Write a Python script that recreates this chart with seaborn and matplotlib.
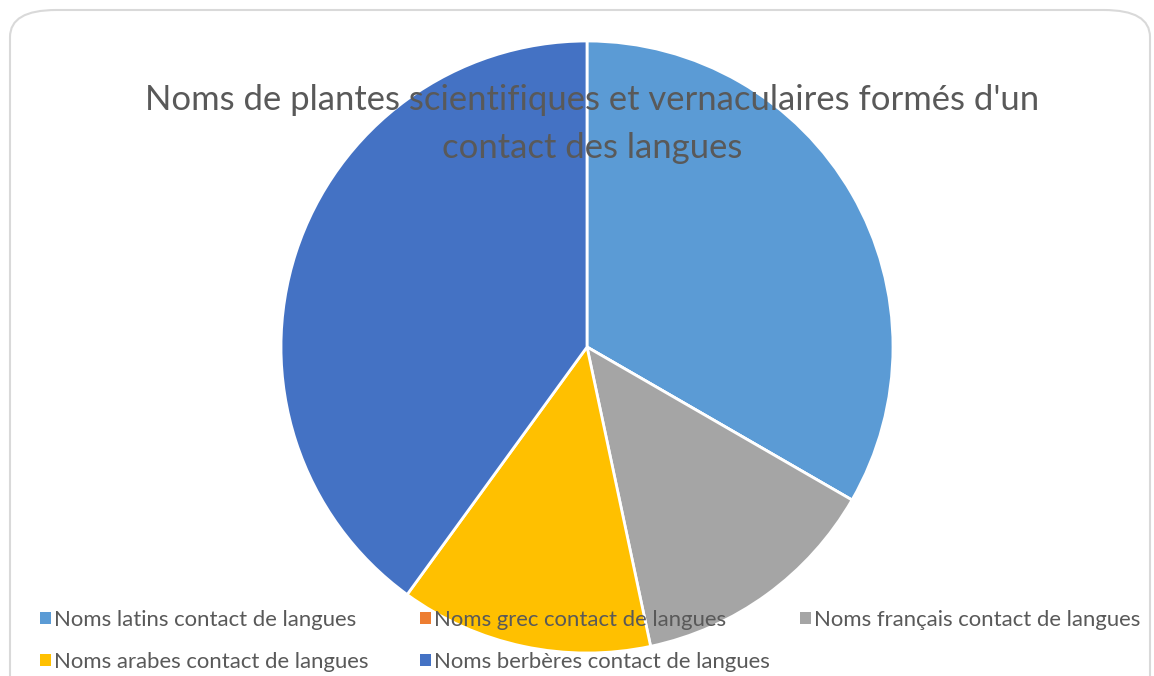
import matplotlib
matplotlib.use("Agg")
import matplotlib.pyplot as plt
from matplotlib.patches import FancyBboxPatch, Patch
import seaborn as sns

sns.set_theme(style="white")
plt.rcParams['font.family'] = ['Lato', 'DejaVu Sans']

labels = ["Noms latins contact de langues", "Noms grec contact de langues",
          "Noms français contact de langues", "Noms arabes contact de langues",
          "Noms berbères contact de langues"]
values = [5, 0, 2, 2, 6]
colors = sns.color_palette(["#5B9BD5", "#ED7D31", "#A5A5A5", "#FFC000", "#4472C4"])
title = "Noms de plantes scientifiques et vernaculaires formés d'un\ncontact des langues"

W, H = 1154, 676
fig = plt.figure(figsize=(W / 100, H / 100), dpi=100)

# chart border (rounded, cut off at the bottom)
border = FancyBboxPatch((10 / W, -0.05), (1150 - 10) / W, (H - 10) / H + 0.05,
                        boxstyle="round,pad=0,rounding_size=0.04",
                        transform=fig.transFigure, facecolor="none",
                        edgecolor="#D9D9D9", linewidth=1.5, zorder=0)
fig.patches.append(border)

cx, cy, r = 587, 347, 306
ax = fig.add_axes([(cx - r) / W, (H - cy - r) / H, 2 * r / W, 2 * r / H])
ax.pie(values, colors=colors, startangle=90, counterclock=False, radius=1,
       wedgeprops=dict(edgecolor="white", linewidth=2))
ax.set_xlim(-1, 1)
ax.set_ylim(-1, 1)
ax.set_aspect("equal")
ax.axis("off")

fig.text(592 / W, 1 - 124 / H, title, ha="center", va="center", fontsize=24.9,
         color="#595959", linespacing=1.62, zorder=5)

# legend entries laid out like the Excel legend (3 per row)
spots = [(40, 620), (420, 620), (800, 620), (40, 662), (420, 662)]
for lab, col, (x, y) in zip(labels, colors, spots):
    leg = fig.legend([Patch(facecolor=col, edgecolor="none")], [lab],
                     loc="center left", bbox_to_anchor=(x / W, 1 - y / H),
                     frameon=False, fontsize=15.9, labelcolor="#595959",
                     handlelength=0.5, handleheight=0.5, handletextpad=0.12,
                     borderpad=0, borderaxespad=0)
    leg.set_zorder(6)

fig.savefig("out.png", dpi=100)
